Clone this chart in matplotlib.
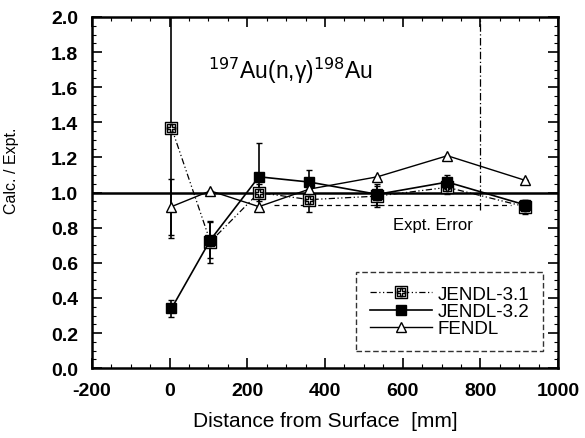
import matplotlib
matplotlib.use("Agg")
import matplotlib.pyplot as plt
from matplotlib.ticker import MultipleLocator

plt.rcParams["font.family"] = ["Liberation Sans", "DejaVu Sans"]
plt.rcParams["axes.unicode_minus"] = False
plt.rcParams["mathtext.fontset"] = "dejavusans"

# distances from surface [mm]
distance = [5, 105, 230, 360, 535, 715, 915]

jendl31 = [1.37, 0.72, 1.00, 0.96, 0.98, 1.03, 0.92]
jendl32 = [0.34, 0.73, 1.09, 1.06, 0.99, 1.06, 0.93]
fendl = [0.92, 1.01, 0.92, 1.02, 1.09, 1.21, 1.07]

err31 = [0.63, 0.12, 0.05, 0.07, 0.06, 0.04, 0.04]
err32 = [0.05, 0.10, 0.19, 0.07, 0.06, 0.04, 0.03]
err_fendl = [0.16, 0.0, 0.0, 0.0, 0.0, 0.0, 0.0]

expt_band_x = [270, 880]
expt_band_y = 0.93

fig = plt.figure(figsize=(5.85, 4.39), dpi=100)
ax = fig.add_axes([0.157, 0.159, 0.797, 0.800])

ax.axhline(1.0, color="black", lw=1.8, zorder=1)
ax.plot(expt_band_x, [expt_band_y, expt_band_y], color="black", lw=0.9,
        dashes=(4, 3), zorder=1)
ax.plot([800, 800], [0.9, 2.0], color="black", lw=0.9, dashes=(6, 2, 1, 2))

# error bars (experimental uncertainty)
for y, e in [(jendl31, err31), (jendl32, err32), (fendl, err_fendl)]:
    ax.errorbar(distance, y, yerr=e, fmt="none", ecolor="black",
                elinewidth=1.2, capsize=2)

ax.plot(distance, jendl31, color="black", lw=0.9, dashes=(5, 2, 1, 2, 1, 2),
        marker=r"$\boxplus$", mfc="white", mec="black", ms=8,
        label="JENDL-3.1")
ax.plot(distance, jendl32, color="black", lw=1.2, marker="s", mfc="black",
        mec="black", ms=6.5, label="JENDL-3.2")
ax.plot(distance, fendl, color="black", lw=1.0, marker="^", mfc="white",
        mec="black", ms=6.5, label="FENDL")

ax.text(100, 1.70, "$^{197}$Au(n,\u03b3)$^{198}$Au", fontsize=16.5,
        ha="left", va="center")
ax.text(575, 0.82, "Expt. Error", fontsize=12, ha="left", va="center")

ax.set_xlim(-200, 1000)
ax.set_ylim(0.0, 2.0)
ax.xaxis.set_major_locator(MultipleLocator(200))
ax.xaxis.set_minor_locator(MultipleLocator(50))
ax.yaxis.set_major_locator(MultipleLocator(0.2))
ax.yaxis.set_minor_locator(MultipleLocator(0.05))
ax.yaxis.set_major_formatter(plt.FormatStrFormatter("%.1f"))
ax.tick_params(which="both", direction="in", top=True, right=True)
ax.tick_params(which="major", length=7, width=1.2, labelsize=14)
ax.tick_params(axis="x", which="major", pad=10)
ax.tick_params(axis="y", which="major", pad=10)
ax.tick_params(which="minor", length=3, width=0.8)
for lab in ax.get_xticklabels() + ax.get_yticklabels():
    lab.set_fontweight("bold")
for s in ax.spines.values():
    s.set_linewidth(1.8)

ax.set_xlabel("Distance from Surface  [mm]", fontsize=15)
ax.set_ylabel("Calc. / Expt.", fontsize=11.5)
ax.xaxis.set_label_coords(0.5, -0.122)
ax.yaxis.set_label_coords(-0.157, 0.565)

leg = ax.legend(loc="lower right", bbox_to_anchor=(0.968, 0.048),
                fontsize=13.5, frameon=True, fancybox=False, handlelength=3.3,
                handletextpad=0.3, borderpad=0.75, labelspacing=0.0,
                borderaxespad=0.0)
leg.get_frame().set_edgecolor("black")
leg.get_frame().set_linestyle((0, (4, 2)))
leg.get_frame().set_linewidth(1.0)

fig.savefig("out.png", dpi=100)
